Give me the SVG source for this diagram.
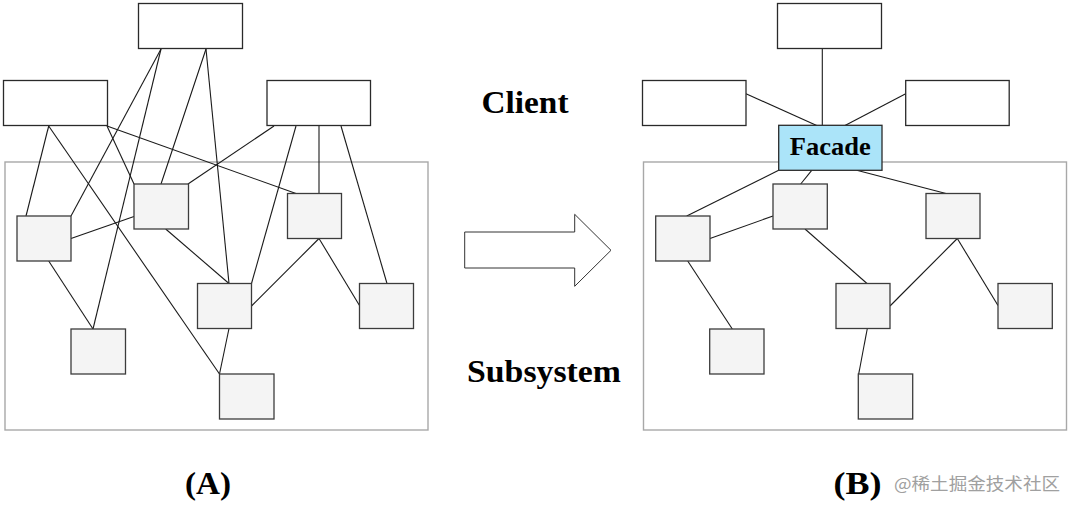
<svg xmlns="http://www.w3.org/2000/svg" width="1071" height="510" viewBox="0 0 1071 510">
<style>
.client{fill:#ffffff;stroke:#2a2a2a;stroke-width:1.3}
.sub{fill:#f4f4f4;stroke:#3c3c3c;stroke-width:1.3}
.cont{fill:none;stroke:#a8a8a8;stroke-width:1.4}
.facade{fill:#abe4f9;stroke:#2a2a2a;stroke-width:1.3}
.conn line{stroke:#1a1a1a;stroke-width:1.1}
.lbl{font-family:"Liberation Serif","Times New Roman",serif;font-weight:bold;fill:#000}
.wm{font-family:"Noto Sans CJK SC","Noto Sans",sans-serif;fill:#a0a0a0}
</style>
<rect width="1071" height="510" fill="#fff"/>
<!-- Diagram A -->
<g id="A-subsystem"><rect class="cont" x="5" y="162" width="423" height="268"/></g>
<g class="conn" id="A-connectors">
<line x1="161" y1="49" x2="71" y2="216"/>
<line x1="161" y1="49" x2="93" y2="329"/>
<line x1="206" y1="49" x2="161" y2="184"/>
<line x1="206" y1="49" x2="229" y2="283.5"/>
<line x1="48.7" y1="126" x2="26" y2="216"/>
<line x1="48.7" y1="126" x2="219.5" y2="374"/>
<line x1="107" y1="126" x2="134" y2="184"/>
<line x1="107" y1="126" x2="296" y2="193.5"/>
<line x1="274" y1="126" x2="188" y2="184"/>
<line x1="296" y1="126" x2="251.5" y2="283.5"/>
<line x1="319" y1="126" x2="319" y2="193.5"/>
<line x1="341" y1="126" x2="387" y2="283.5"/>
<line x1="71" y1="238.5" x2="134" y2="216.5"/>
<line x1="48.7" y1="261" x2="93" y2="329"/>
<line x1="165.7" y1="229" x2="229" y2="283.5"/>
<line x1="319" y1="238.5" x2="251.5" y2="306"/>
<line x1="319" y1="238.5" x2="359.5" y2="305.5"/>
<line x1="229" y1="328.5" x2="219.5" y2="374"/>
</g>
<g id="A-client1"><rect class="client" x="138.5" y="3.5" width="104" height="45"/></g>
<g id="A-client2"><rect class="client" x="3.5" y="80.5" width="104" height="45"/></g>
<g id="A-client3"><rect class="client" x="267" y="80.5" width="103.5" height="45"/></g>
<g id="A-s1"><rect class="sub" x="17" y="216" width="54" height="45"/></g>
<g id="A-s2"><rect class="sub" x="134" y="184" width="54.5" height="45"/></g>
<g id="A-s3"><rect class="sub" x="287.5" y="193.5" width="54" height="45"/></g>
<g id="A-s4"><rect class="sub" x="71" y="329" width="54.5" height="45"/></g>
<g id="A-s5"><rect class="sub" x="197.5" y="283.5" width="54" height="45"/></g>
<g id="A-s6"><rect class="sub" x="359.5" y="283.5" width="54" height="45"/></g>
<g id="A-s7"><rect class="sub" x="219.5" y="374" width="54.5" height="45"/></g>
<!-- Middle -->
<g id="arrow"><polygon points="464.7,232 574.7,232 574.7,214.3 611,250.3 574.7,286.3 574.7,268 464.7,268" fill="#fff" stroke="#333" stroke-width="1"/></g>
<text class="lbl" x="525" y="112.5" font-size="32" text-anchor="middle" textLength="87" lengthAdjust="spacingAndGlyphs">Client</text>
<text class="lbl" x="544" y="382" font-size="31" text-anchor="middle" textLength="154" lengthAdjust="spacingAndGlyphs">Subsystem</text>
<!-- Diagram B -->
<g id="B-subsystem"><rect class="cont" x="643.5" y="162" width="423" height="268"/></g>
<g class="conn" id="B-connectors">
<line x1="822.3" y1="49" x2="822.3" y2="125.5"/>
<line x1="746" y1="93.7" x2="816.7" y2="125.5"/>
<line x1="905.7" y1="93.7" x2="845" y2="125.5"/>
<line x1="778.7" y1="170.3" x2="686.7" y2="216"/>
<line x1="811.7" y1="170.3" x2="800.7" y2="184"/>
<line x1="856.7" y1="170.3" x2="946" y2="193.5"/>
<line x1="710" y1="238.5" x2="773" y2="216"/>
<line x1="687.7" y1="261" x2="732.3" y2="329"/>
<line x1="805" y1="229" x2="867" y2="283.5"/>
<line x1="957.3" y1="238.5" x2="890" y2="306"/>
<line x1="957.3" y1="238.5" x2="998" y2="305.5"/>
<line x1="867.3" y1="328.5" x2="858.7" y2="374"/>
</g>
<g id="B-client1"><rect class="client" x="777.5" y="3.5" width="104" height="45"/></g>
<g id="B-client2"><rect class="client" x="642.5" y="80.5" width="103.5" height="45"/></g>
<g id="B-client3"><rect class="client" x="905.7" y="80.5" width="103.5" height="45"/></g>
<g id="B-facade"><rect class="facade" x="778.7" y="125.3" width="103.3" height="45"/>
<text class="lbl" x="830.3" y="155" font-size="26" text-anchor="middle" textLength="81" lengthAdjust="spacingAndGlyphs">Facade</text></g>
<g id="B-s1"><rect class="sub" x="655.7" y="216" width="54.3" height="45"/></g>
<g id="B-s2"><rect class="sub" x="773" y="184" width="54.3" height="45"/></g>
<g id="B-s3"><rect class="sub" x="926" y="193.5" width="54" height="45"/></g>
<g id="B-s4"><rect class="sub" x="709.7" y="329" width="54.3" height="45"/></g>
<g id="B-s5"><rect class="sub" x="836" y="283.5" width="54" height="45"/></g>
<g id="B-s6"><rect class="sub" x="998" y="283.5" width="54.3" height="45"/></g>
<g id="B-s7"><rect class="sub" x="858.3" y="374" width="54.4" height="45"/></g>
<!-- Labels -->
<text class="lbl" x="208" y="494" font-size="31" text-anchor="middle" textLength="46" lengthAdjust="spacingAndGlyphs">(A)</text>
<text class="lbl" x="857.5" y="494" font-size="31" text-anchor="middle" textLength="48" lengthAdjust="spacingAndGlyphs">(B)</text>
<text class="wm" x="894" y="490" font-size="17" textLength="166" lengthAdjust="spacingAndGlyphs">@稀土掘金技术社区</text>
</svg>
